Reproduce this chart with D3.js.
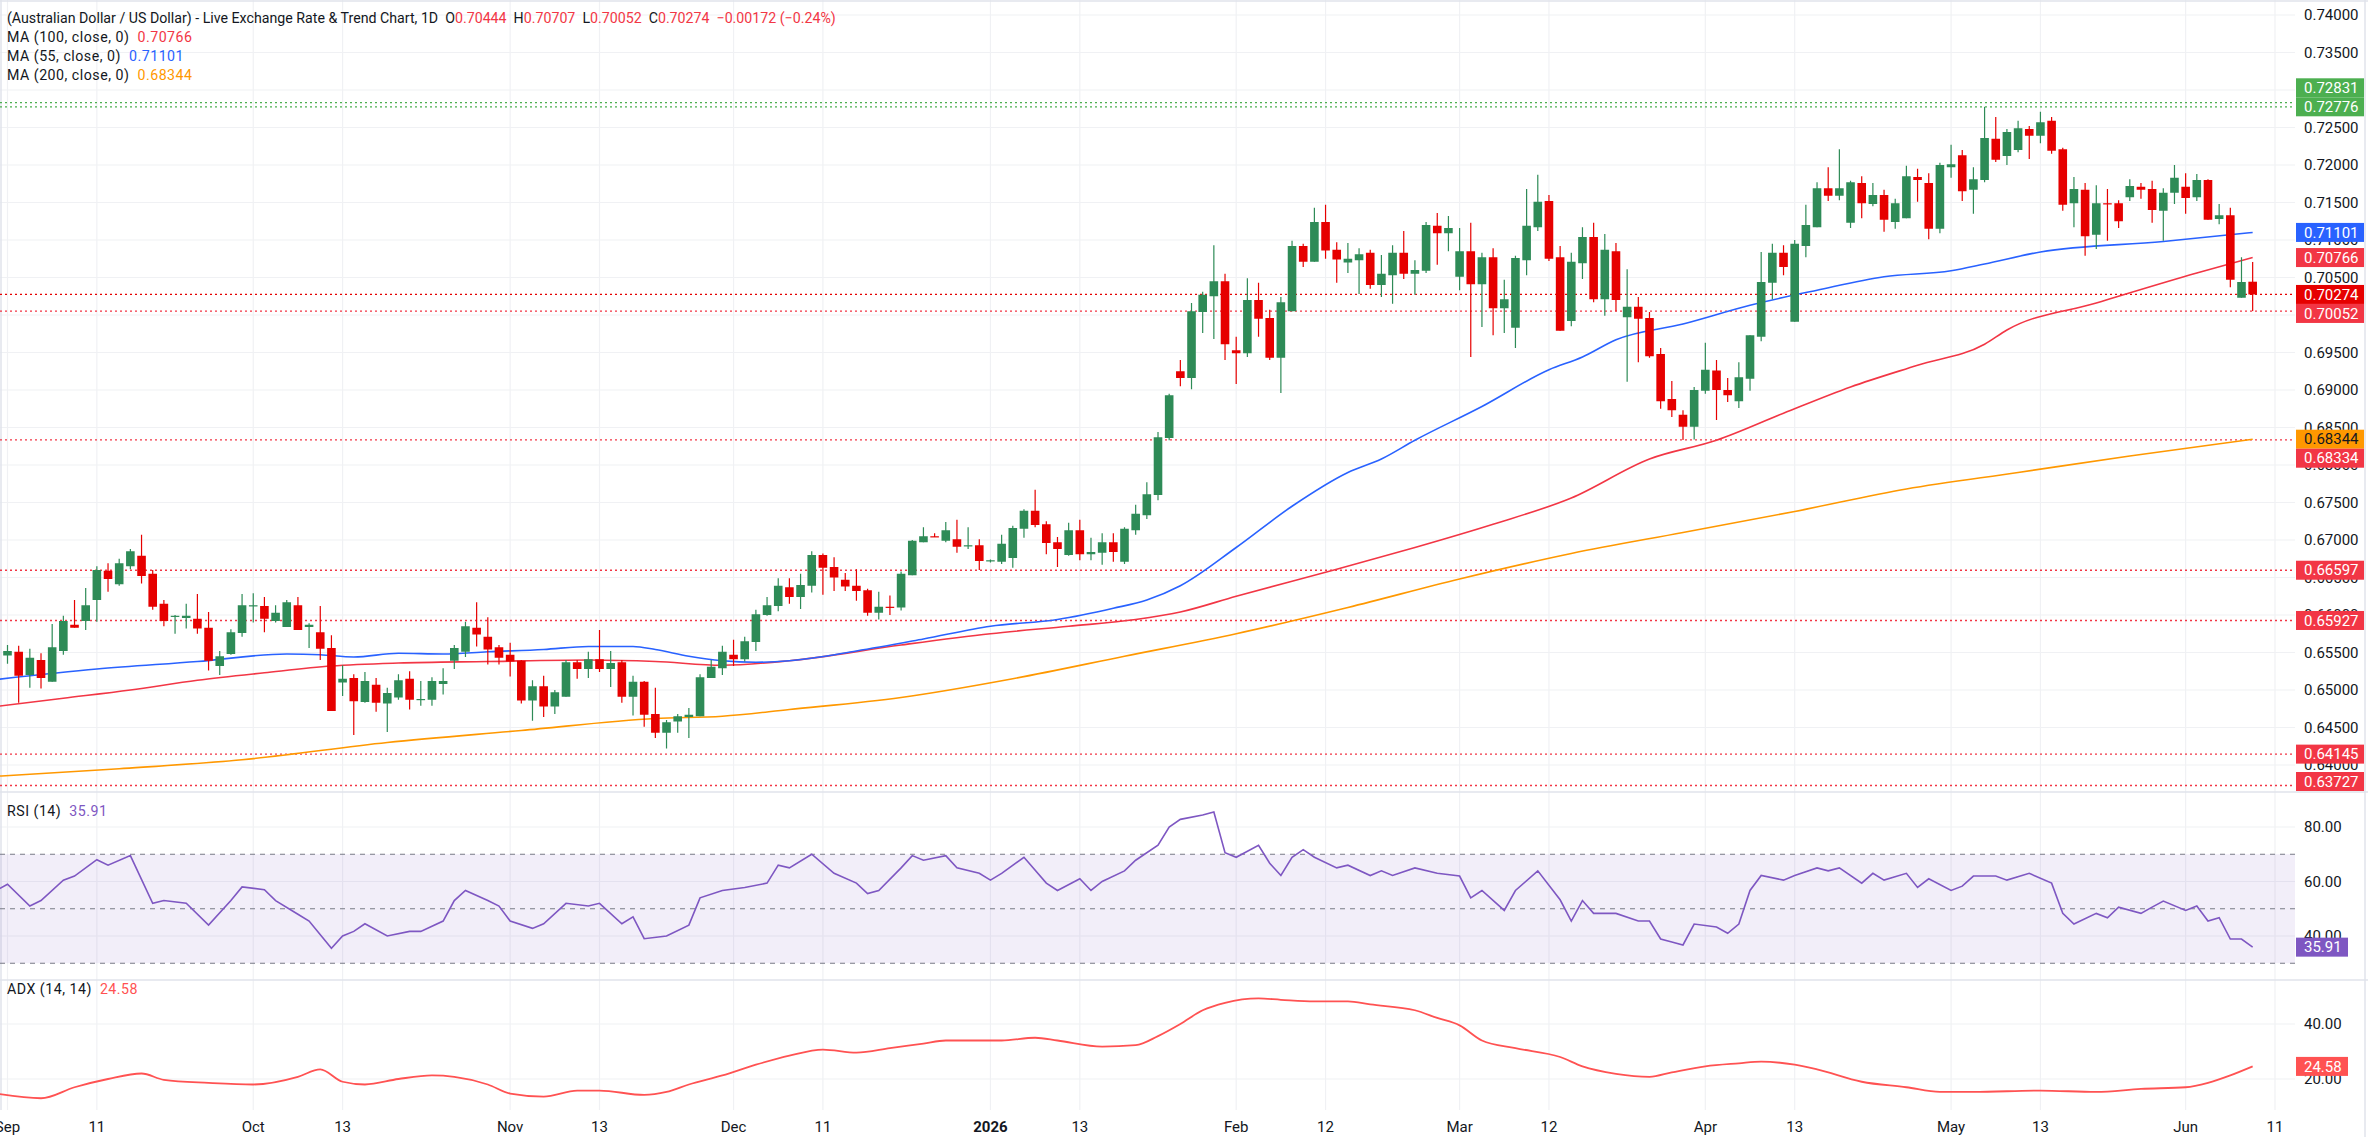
<!DOCTYPE html>
<html><head><meta charset="utf-8">
<script src="https://cdn.jsdelivr.net/npm/d3@7"></script>
<style>
html,body{margin:0;padding:0;background:#fff;}
svg{display:block;font-family:"Roboto","Inter","Noto Sans",sans-serif;}
</style></head><body>
<svg id="c" width="2368" height="1137"></svg>
<script>
// ---------------- DATA ----------------
const dateTickIdx = [0,8,22,30,45,53,65,73,88,96,110,118,130,138,152,160,174,182,195,203];
const dateTickLabels = ["Sep","11","Oct","13","Nov","13","Dec","11","2026","13","Feb","12","Mar","12","Apr","13","May","13","Jun","11"];

const opens = [
0.6546,0.6551,0.6520,0.6540,0.6511,0.6552,0.6587,0.6592,0.6620,0.6659,
0.6641,0.6665,0.6679,0.6655,0.6615,0.6598,0.6596,0.6595,0.6583,0.6532,
0.6548,0.6576,0.6612,0.6612,0.6592,0.6584,0.6613,0.6584,0.6577,0.6556,
0.6510,0.6516,0.6484,0.6507,0.6482,0.6490,0.6515,0.6487,0.6487,0.6508,
0.6539,0.6551,0.6583,0.6571,0.6557,0.6547,0.6539,0.6486,0.6505,0.6478,
0.6491,0.6537,0.6528,0.6541,0.6528,0.6537,0.6491,0.6511,0.6468,0.6443,
0.6458,0.6464,0.6465,0.6516,0.6529,0.6547,0.6541,0.6564,0.6600,0.6612,
0.6637,0.6624,0.6639,0.6680,0.6664,0.6647,0.6639,0.6633,0.6603,0.6611,
0.6610,0.6653,0.6697,0.6705,0.6699,0.6701,0.6692,0.6693,0.6672,0.6671,
0.6676,0.6715,0.6739,0.6721,0.6697,0.6680,0.6713,0.6681,0.6683,0.6697,
0.6671,0.6713,0.6733,0.6760,0.6836,0.6925,0.6916,0.7004,0.7025,0.7045,
0.6953,0.6949,0.7020,0.6996,0.6943,0.7005,0.7092,0.7071,0.7124,0.7087,
0.7070,0.7073,0.7083,0.7040,0.7053,0.7083,0.7055,0.7059,0.7119,0.7109,
0.7051,0.7085,0.7041,0.7077,0.7009,0.6983,0.7073,0.7117,0.7152,0.7077,
0.6992,0.7069,0.7104,0.7021,0.7085,0.6997,0.7011,0.6996,0.6948,0.6888,
0.6867,0.6851,0.6899,0.6926,0.6900,0.6885,0.6915,0.6971,0.7043,0.7083,
0.6991,0.7092,0.7117,0.7169,0.7159,0.7123,0.7176,0.7148,0.7160,0.7124,
0.7129,0.7184,0.7176,0.7115,0.7197,0.7213,0.7167,0.7180,0.7235,0.7212,
0.7220,0.7248,0.7239,0.7259,0.7221,0.7149,0.7167,0.7107,0.7149,0.7149,
0.7157,0.7171,0.7168,0.7139,0.7163,0.7171,0.7157,0.7180,0.7128,0.7133,
0.7023,0.70444];
const highs = [
0.6560,0.6559,0.6555,0.6549,0.6588,0.6599,0.6620,0.6636,0.6665,0.6669,
0.6675,0.6688,0.6707,0.6660,0.6620,0.6600,0.6615,0.6628,0.6604,0.6552,
0.6581,0.6628,0.6629,0.6624,0.6613,0.6620,0.6624,0.6589,0.6612,0.6573,
0.6533,0.6521,0.6524,0.6516,0.6503,0.6521,0.6525,0.6512,0.6517,0.6529,
0.6560,0.6591,0.6617,0.6597,0.6560,0.6563,0.6540,0.6513,0.6519,0.6500,
0.6540,0.6540,0.6551,0.6580,0.6552,0.6540,0.6519,0.6512,0.6503,0.6460,
0.6468,0.6476,0.6521,0.6540,0.6559,0.6567,0.6571,0.6607,0.6624,0.6649,
0.6649,0.6655,0.6685,0.6682,0.6677,0.6656,0.6661,0.6635,0.6631,0.6626,
0.6658,0.6700,0.6717,0.6709,0.6724,0.6727,0.6717,0.6701,0.6674,0.6707,
0.6719,0.6741,0.6767,0.6725,0.6704,0.6723,0.6727,0.6703,0.6709,0.6709,
0.6717,0.6747,0.6777,0.6844,0.6895,0.6940,0.7016,0.7031,0.7093,0.7055,
0.6971,0.7049,0.7043,0.7007,0.7024,0.7099,0.7095,0.7143,0.7147,0.7097,
0.7096,0.7089,0.7087,0.7080,0.7093,0.7112,0.7073,0.7124,0.7136,0.7132,
0.7116,0.7123,0.7083,0.7089,0.7047,0.7079,0.7168,0.7187,0.7160,0.7092,
0.7083,0.7117,0.7123,0.7108,0.7096,0.7061,0.7024,0.7004,0.6956,0.6912,
0.6873,0.6904,0.6963,0.6940,0.6916,0.6937,0.6973,0.7084,0.7095,0.7093,
0.7100,0.7147,0.7177,0.7197,0.7221,0.7179,0.7185,0.7176,0.7167,0.7155,
0.7199,0.7195,0.7189,0.7203,0.7227,0.7220,0.7197,0.72776,0.7264,0.7248,
0.7259,0.7252,0.7271,0.7264,0.7223,0.7184,0.7176,0.7173,0.7168,0.7153,
0.7181,0.7176,0.7179,0.7169,0.7200,0.7189,0.7188,0.7181,0.7148,0.7143,
0.7077,0.70707];
const lows = [
0.6535,0.6483,0.6503,0.6502,0.6511,0.6547,0.6583,0.6580,0.6591,0.6631,
0.6639,0.6661,0.6642,0.6607,0.6585,0.6575,0.6582,0.6575,0.6526,0.6520,
0.6547,0.6571,0.6590,0.6577,0.6590,0.6584,0.6580,0.6556,0.6540,0.6472,
0.6492,0.6440,0.6483,0.6471,0.6444,0.6487,0.6474,0.6479,0.6479,0.6494,
0.6528,0.6544,0.6558,0.6534,0.6534,0.6518,0.6482,0.6459,0.6464,0.6468,
0.6491,0.6515,0.6516,0.6524,0.6504,0.6483,0.6466,0.6451,0.6436,0.6422,
0.6443,0.6436,0.6465,0.6516,0.6520,0.6532,0.6538,0.6552,0.6599,0.6605,
0.6615,0.6608,0.6630,0.6627,0.6632,0.6632,0.6619,0.6599,0.6594,0.6600,
0.6606,0.6653,0.6697,0.6704,0.6697,0.6683,0.6688,0.6660,0.6670,0.6668,
0.6663,0.6703,0.6717,0.6681,0.6664,0.6679,0.6673,0.6673,0.6667,0.6671,
0.6668,0.6707,0.6728,0.6753,0.6833,0.6905,0.6901,0.6976,0.6968,0.6940,
0.6908,0.6944,0.6971,0.6940,0.6896,0.7005,0.7064,0.7071,0.7075,0.7043,
0.7056,0.7028,0.7035,0.7024,0.7015,0.7048,0.7027,0.7056,0.7067,0.7085,
0.7033,0.6944,0.6984,0.6973,0.6976,0.6956,0.7053,0.7112,0.7072,0.6979,
0.6985,0.7048,0.7017,0.6999,0.7005,0.6911,0.6937,0.6943,0.6875,0.6864,
0.68334,0.6834,0.6895,0.6860,0.6884,0.6876,0.6899,0.6965,0.7021,0.7053,
0.6991,0.7077,0.7117,0.7152,0.7153,0.7116,0.7129,0.7145,0.7111,0.7115,
0.7129,0.7151,0.7101,0.7109,0.7183,0.7152,0.7135,0.7177,0.7204,0.7200,
0.7217,0.7208,0.7229,0.7215,0.7139,0.7117,0.7079,0.7088,0.7099,0.7116,
0.7152,0.7155,0.7123,0.7099,0.7148,0.7135,0.7152,0.7127,0.7121,0.7037,
0.7023,0.70052];
const closes = [
0.6552,0.6519,0.6543,0.6516,0.6557,0.6592,0.6583,0.6613,0.6660,0.6648,
0.6669,0.6685,0.6652,0.6611,0.6592,0.6599,0.6599,0.6582,0.6539,0.6545,
0.6577,0.6613,0.6613,0.6595,0.6603,0.6617,0.6580,0.6587,0.6555,0.6472,
0.6515,0.6485,0.6512,0.6483,0.6496,0.6513,0.6487,0.6488,0.6512,0.6512,
0.6556,0.6585,0.6574,0.6554,0.6543,0.6538,0.6486,0.6505,0.6478,0.6497,
0.6537,0.6528,0.6541,0.6528,0.6536,0.6491,0.6511,0.6467,0.6443,0.6457,
0.6465,0.6467,0.6517,0.6531,0.6551,0.6541,0.6565,0.6601,0.6613,0.6639,
0.6624,0.6640,0.6680,0.6663,0.6650,0.6638,0.6632,0.6603,0.6611,0.6610,
0.6655,0.6699,0.6705,0.6704,0.6713,0.6691,0.6693,0.6672,0.6673,0.6695,
0.6716,0.6739,0.6720,0.6696,0.6688,0.6713,0.6681,0.6684,0.6697,0.6684,
0.6715,0.6735,0.6761,0.6837,0.6893,0.6916,0.7005,0.7027,0.7045,0.6961,
0.6949,0.7020,0.6995,0.6943,0.7017,0.7092,0.7071,0.7124,0.7086,0.7074,
0.7075,0.7081,0.7040,0.7055,0.7083,0.7055,0.7060,0.7120,0.7109,0.7116,
0.7085,0.7041,0.7077,0.7009,0.7021,0.7076,0.7119,0.7151,0.7075,0.6979,
0.7071,0.7104,0.7021,0.7087,0.7020,0.7011,0.6995,0.6945,0.6885,0.6873,
0.6851,0.6900,0.6927,0.6900,0.6893,0.6917,0.6973,0.7044,0.7083,0.7064,
0.7095,0.7120,0.7169,0.7159,0.7169,0.7177,0.7149,0.7160,0.7127,0.7149,
0.7185,0.7180,0.7115,0.7200,0.7201,0.7165,0.7181,0.7236,0.7207,0.7244,
0.7249,0.7239,0.7257,0.7219,0.7147,0.7168,0.7105,0.7149,0.7148,0.7125,
0.7172,0.7167,0.7140,0.7163,0.7183,0.7156,0.7180,0.7127,0.7133,0.7047,
0.7044,0.70274];

// Moving averages as [barIndex, value]
const ma55 = [[-1,0.6514],[8,0.6528],[17,0.6538],[25,0.6548],[28,0.6547],[31,0.6544],[35,0.6549],[39,0.6548],[43,0.6551],[48,0.6554],[52,0.6558],[56,0.6558],[58,0.6554],[61,0.6545],[64,0.6539],[67,0.6537],[70,0.6539],[76,0.6552],[82,0.6568],[88,0.6585],[94,0.6594],[99,0.6609],[102,0.6620],[105,0.6639],[110,0.6690],[115,0.6745],[120,0.6790],[123,0.6808],[126,0.6833],[132,0.6878],[138,0.6927],[141,0.6944],[144,0.6967],[150,0.6988],[156,0.7013],[162,0.7033],[168,0.7051],[174,0.7059],[177,0.7068],[182,0.7084],[193,0.7098],[201,0.71101]];
const ma100 = [[-1,0.6478],[5,0.6489],[11,0.6500],[17,0.6513],[23,0.6523],[29,0.6532],[35,0.6536],[43,0.6538],[52,0.6540],[58,0.6538],[64,0.6533],[70,0.6539],[80,0.6560],[88,0.6575],[95,0.6585],[101,0.6594],[105,0.6604],[110,0.6625],[119,0.6661],[126,0.6690],[133,0.6721],[140,0.6756],[147,0.6808],[153,0.6833],[159,0.6869],[165,0.6904],[171,0.6933],[177,0.6961],[179,0.6980],[187,0.7016],[196,0.7056],[201,0.70766]];
const ma200 = [[-1,0.6385],[10,0.6395],[21,0.6407],[34,0.6430],[46,0.6446],[58,0.6462],[64,0.6465],[70,0.6474],[80,0.6490],[90,0.6515],[100,0.6545],[110,0.6575],[120,0.6610],[130,0.6648],[140,0.6682],[150,0.6710],[160,0.6738],[170,0.6768],[180,0.6790],[190,0.6812],[201,0.68344]];

const rsi = [[-1,56.7],[0,59],[2,51],[3,53],[5,60.5],[6,62],[8,68],[9,66],[11,69.5],[13,52],[14,53],[16,52],[18,44],[20,53],[21,58],[23,57],[24,53],[26,48],[27,45.5],[29,35.5],[30,40],[31,41.7],[32,44.5],[34,40],[36,41.7],[37,41.7],[39,45.5],[40,53],[41,56.7],[43,53],[44,51],[45,45.5],[47,42.8],[48,44.5],[50,52],[52,51],[53,52],[55,44.5],[56,47],[57,39],[59,40],[61,44],[62,54],[64,56.7],[66,57.8],[68,59.4],[69,66],[70,65],[72,70],[74,63],[76,59.4],[77,55.6],[78,56.7],[80,65],[81,69.5],[82,67.8],[84,69.5],[85,65],[87,63],[88,60.5],[89,63],[91,68.9],[93,59.4],[94,56.7],[96,61],[97,56.7],[98,60],[100,63.9],[101,67.8],[103,73.3],[104,80],[105,82.8],[107,84.4],[108,85.5],[109,70.6],[110,68.9],[112,73.3],[113,66.7],[114,62.2],[115,68.9],[116,71.7],[117,68.9],[119,65],[120,66],[122,62.2],[123,63.9],[124,62.2],[126,65],[128,63],[130,62],[131,54],[132,56.7],[134,49.4],[135,56.7],[137,63.9],[139,53.3],[140,45.5],[141,53],[142,48.3],[144,48.3],[146,45.5],[147,45.5],[148,38.9],[149,37.8],[150,36.7],[151,44.4],[153,43.3],[154,41],[155,44.4],[156,56.7],[157,62.2],[159,60.5],[160,62.2],[162,65],[163,63.9],[164,65],[166,59.4],[167,63],[168,60.5],[170,63],[171,57.8],[172,61],[174,56.7],[175,58.3],[176,62],[178,62],[179,60.5],[181,63],[183,59.4],[184,48.3],[185,44.4],[187,48.3],[188,46.7],[189,50.6],[191,48.3],[192,50.6],[193,52.8],[195,49.4],[196,51],[197,45.5],[198,46.7],[199,38.9],[200,38.9],[201,35.91]];
const adx = [[-1,14.7],[3,13],[6,17],[9,20],[12,22],[14,19.7],[18,18.6],[22,18],[26,20.8],[28,23.5],[30,19],[32,18],[35,20],[38,21.3],[40,20.8],[43,18],[45,14.7],[48,13.6],[51,15.8],[53,15.8],[57,14.2],[59,15.3],[61,18],[64,21.3],[67,25.2],[70,28.5],[73,30.7],[76,29.6],[79,31.2],[82,32.9],[84,34],[89,34],[92,35],[94,34],[98,31.8],[101,32.3],[103,35.6],[105,40],[107,45],[109,47.7],[112,49.3],[114,48.8],[117,48.2],[120,48.2],[122,47.1],[126,45],[128,42.2],[130,39.5],[132,34],[135,31.2],[139,28],[141,24.6],[144,21.9],[147,20.8],[149,22.4],[152,24.6],[155,25.7],[157,26.3],[160,25.2],[162,23.5],[166,19],[170,17],[173,15.3],[176,15.3],[182,15.8],[187,15.3],[191,16.4],[195,17],[197,18.6],[199,21.3],[201,24.58]];

const hLines = [
  {v:0.72831, color:"#4caf50"}, {v:0.72776, color:"#4caf50"},
  {v:0.70052, color:"#f23645"}, {v:0.68334, color:"#f23645"},
  {v:0.66597, color:"#f23645"}, {v:0.65927, color:"#f23645"},
  {v:0.64145, color:"#f23645"}, {v:0.63727, color:"#f23645"}
];
const priceTicks = d3.range(0, 21).map(k => 0.64 + k*0.005);
const rsiTicks = [80, 60, 40];
const adxTicks = [40, 20];

// ---------------- LAYOUT ----------------
const W = 2368, H = 1137, plotR = 2295;
const mainTop = 0, mainBot = 792, rsiTop = 792, rsiBot = 980, adxTop = 980, adxBot = 1110;
const x = d3.scaleLinear().domain([0, 203]).range([7.5, 2275]);
const y = d3.scaleLinear().domain([0.64, 0.74]).range([765, 15]);
const yR = d3.scaleLinear().domain([40, 80]).range([936, 827]);
const yA = d3.scaleLinear().domain([20, 40]).range([1079, 1024]);

const GREEN = "#2e8b57", RED = "#e60000";
const svg = d3.select("#c");
const defs = svg.append("defs");
function clip(id, y0, y1){ defs.append("clipPath").attr("id", id).append("rect").attr("x",0).attr("y",y0).attr("width",plotR).attr("height",y1-y0); }
clip("cm", mainTop, mainBot); clip("cr", rsiTop, rsiBot); clip("ca", adxTop, adxBot);

svg.append("rect").attr("width",W).attr("height",H).attr("fill","#fff");

const grid = svg.append("g").attr("stroke","#f0f1f4").attr("stroke-width",1.2);
grid.selectAll(".vx").data(dateTickIdx).join("line")
  .attr("x1",d=>x(d)).attr("x2",d=>x(d)).attr("y1",0).attr("y2",adxBot);
grid.selectAll(".hp").data(priceTicks).join("line")
  .attr("x1",0).attr("x2",plotR).attr("y1",d=>y(d)).attr("y2",d=>y(d));
grid.selectAll(".hr").data(rsiTicks).join("line")
  .attr("x1",0).attr("x2",plotR).attr("y1",d=>yR(d)).attr("y2",d=>yR(d));
grid.selectAll(".ha").data(adxTicks).join("line")
  .attr("x1",0).attr("x2",plotR).attr("y1",d=>yA(d)).attr("y2",d=>yA(d));

const sep = svg.append("g").attr("stroke","#e0e3eb").attr("stroke-width",1.5);
[mainBot, rsiBot].forEach(v => sep.append("line").attr("x1",0).attr("x2",W).attr("y1",v).attr("y2",v));
sep.append("line").attr("x1",W-3).attr("x2",W-3).attr("y1",0).attr("y2",H);
sep.append("line").attr("x1",0).attr("x2",W).attr("y1",1).attr("y2",1);
sep.append("line").attr("x1",1).attr("x2",1).attr("y1",0).attr("y2",adxBot);

// ---- main pane ----
const gm = svg.append("g").attr("clip-path","url(#cm)");
gm.selectAll(".hl").data(hLines).join("line")
  .attr("x1",0).attr("x2",plotR).attr("y1",d=>y(d.v)).attr("y2",d=>y(d.v))
  .attr("stroke",d=>d.color).attr("stroke-width",1.3).attr("stroke-dasharray","2,3");
gm.append("line").attr("x1",0).attr("x2",plotR).attr("y1",y(closes[closes.length-1])).attr("y2",y(closes[closes.length-1]))
  .attr("stroke",RED).attr("stroke-width",1.3).attr("stroke-dasharray","2,3");

const maLine = d3.line().x(d=>x(d[0])).y(d=>y(d[1])).curve(d3.curveMonotoneX);
[[ma200,"#ff9800"],[ma100,"#f23645"],[ma55,"#2962ff"]].forEach(([d,c]) =>
  gm.append("path").attr("d",maLine(d)).attr("fill","none").attr("stroke",c).attr("stroke-width",1.6));

const candles = closes.map((c,i)=>({i,o:opens[i],h:highs[i],l:lows[i],c}));
const bw = 8.6;
const cg = gm.selectAll(".cd").data(candles).join("g");
cg.append("rect").attr("x",d=>x(d.i)-0.6).attr("width",1.2)
  .attr("y",d=>y(d.h)).attr("height",d=>Math.max(1,y(d.l)-y(d.h)))
  .attr("fill",d=>d.c>=d.o?GREEN:RED);
cg.append("rect").attr("x",d=>x(d.i)-bw/2).attr("width",bw)
  .attr("y",d=>y(Math.max(d.o,d.c))).attr("height",d=>Math.max(1.2,Math.abs(y(d.o)-y(d.c))))
  .attr("fill",d=>d.c>=d.o?GREEN:RED);

// ---- RSI pane ----
const gr = svg.append("g").attr("clip-path","url(#cr)");
gr.append("rect").attr("x",0).attr("width",plotR).attr("y",yR(70)).attr("height",yR(30)-yR(70)).attr("fill","rgba(126,87,194,0.1)");
gr.selectAll(".bd").data([70,50,30]).join("line")
  .attr("x1",0).attr("x2",plotR).attr("y1",d=>yR(d)).attr("y2",d=>yR(d))
  .attr("stroke","#787b86").attr("stroke-width",1).attr("stroke-dasharray","5,5");
gr.append("path").attr("d",d3.line().x(d=>x(d[0])).y(d=>yR(d[1]))(rsi))
  .attr("fill","none").attr("stroke","#7e57c2").attr("stroke-width",1.6);

// ---- ADX pane ----
const ga = svg.append("g").attr("clip-path","url(#ca)");
ga.append("path").attr("d",d3.line().x(d=>x(d[0])).y(d=>yA(d[1])).curve(d3.curveMonotoneX)(adx))
  .attr("fill","none").attr("stroke","#ff5252").attr("stroke-width",1.8);

// ---- axes text ----
const axisFont = 15;
svg.append("g").selectAll("text").data(priceTicks).join("text")
  .attr("x",2304).attr("y",d=>y(d)).attr("dy","0.35em").attr("font-size",axisFont).attr("fill","#131722")
  .text(d=>d.toFixed(5));
svg.append("g").selectAll("text").data(rsiTicks).join("text")
  .attr("x",2304).attr("y",d=>yR(d)).attr("dy","0.35em").attr("font-size",axisFont).attr("fill","#131722")
  .text(d=>d.toFixed(2));
svg.append("g").selectAll("text").data(adxTicks).join("text")
  .attr("x",2304).attr("y",d=>yA(d)).attr("dy","0.35em").attr("font-size",axisFont).attr("fill","#131722")
  .text(d=>d.toFixed(2));
svg.append("g").selectAll("text").data(dateTickIdx).join("text")
  .attr("x",d=>x(d)).attr("y",1127).attr("dy","0.35em").attr("text-anchor","middle")
  .attr("font-size",axisFont).attr("fill","#131722")
  .attr("font-weight",(d,k)=>dateTickLabels[k]==="2026"?"bold":"normal")
  .text((d,k)=>dateTickLabels[k]);

// ---- price labels (with overlap resolution) ----
const lastC = closes[closes.length-1];
const priceLabels = [
  {v:lastC, bg:RED, fg:"#fff"},
  {v:ma55[ma55.length-1][1], bg:"#2962ff", fg:"#fff"},
  {v:ma100[ma100.length-1][1], bg:"#f23645", fg:"#fff"},
  {v:ma200[ma200.length-1][1], bg:"#ff9800", fg:"#131722"},
  {v:0.72776, bg:"#4caf50", fg:"#fff"},
  {v:0.72831, bg:"#4caf50", fg:"#fff"},
  {v:0.70052, bg:"#f23645", fg:"#fff"},
  {v:0.68334, bg:"#f23645", fg:"#fff"},
  {v:0.66597, bg:"#f23645", fg:"#fff"},
  {v:0.65927, bg:"#f23645", fg:"#fff"},
  {v:0.64145, bg:"#f23645", fg:"#fff"},
  {v:0.63727, bg:"#f23645", fg:"#fff"}
];
const LH = 19, placed = [];
priceLabels.forEach(l => {
  let cy = Math.min(y(l.v), mainBot - LH/2 - 1);
  const y0 = cy;
  for (const p of placed) {
    if (Math.abs(p.cy - cy) < LH) cy = (y0 < p.cy) ? p.cy - LH : p.cy + LH;
  }
  l.cy = cy; placed.push(l);
});
const pl = svg.append("g").selectAll("g").data(priceLabels).join("g");
pl.append("rect").attr("x",2296).attr("width",68).attr("y",d=>d.cy-LH/2).attr("height",LH).attr("fill",d=>d.bg);
pl.append("text").attr("x",2304).attr("y",d=>d.cy).attr("dy","0.35em").attr("font-size",axisFont)
  .attr("fill",d=>d.fg).text(d=>d.v.toFixed(5));

const ind = [
  {v:rsi[rsi.length-1][1], yy:yR(rsi[rsi.length-1][1]), bg:"#7e57c2"},
  {v:adx[adx.length-1][1], yy:yA(adx[adx.length-1][1]), bg:"#ff5252"}
];
const il = svg.append("g").selectAll("g").data(ind).join("g");
il.append("rect").attr("x",2296).attr("width",52).attr("y",d=>d.yy-LH/2).attr("height",LH).attr("fill",d=>d.bg);
il.append("text").attr("x",2304).attr("y",d=>d.yy).attr("dy","0.35em").attr("font-size",axisFont)
  .attr("fill","#fff").text(d=>d.v.toFixed(2));

// ---- legends ----
const legFont = 14.2;
const SP = "\u00a0\u00a0";
function legend(yy, parts, ls){
  const t = svg.append("text").attr("x",7).attr("y",yy).attr("dy","0.35em").attr("font-size",legFont)
    .attr("letter-spacing", ls || 0).attr("fill","#131722");
  parts.forEach(([s,c]) => t.append("tspan").attr("fill",c).text(s));
}
const lastO = opens[opens.length-1], lastH = highs[highs.length-1], lastL = lows[lows.length-1];
legend(18, [["(Australian Dollar / US Dollar) - Live Exchange Rate & Trend Chart, 1D"+SP+"O","#131722"],[lastO.toFixed(5),"#f23645"],
  [SP+"H","#131722"],[lastH.toFixed(5),"#f23645"],[SP+"L","#131722"],[lastL.toFixed(5),"#f23645"],
  [SP+"C","#131722"],[lastC.toFixed(5),"#f23645"],[SP+"\u22120.00172 (\u22120.24%)","#f23645"]]);
legend(37, [["MA (100, close, 0)"+SP,"#131722"],[ma100[ma100.length-1][1].toFixed(5),"#f23645"]], 0.5);
legend(56, [["MA (55, close, 0)"+SP,"#131722"],[ma55[ma55.length-1][1].toFixed(5),"#2962ff"]], 0.5);
legend(75, [["MA (200, close, 0)"+SP,"#131722"],[ma200[ma200.length-1][1].toFixed(5),"#ff9800"]], 0.5);
legend(811, [["RSI (14)"+SP,"#131722"],[rsi[rsi.length-1][1].toFixed(2),"#7e57c2"]], 0.5);
legend(989, [["ADX (14, 14)"+SP,"#131722"],[adx[adx.length-1][1].toFixed(2),"#ff5252"]], 0.5);
</script>
</body></html>
